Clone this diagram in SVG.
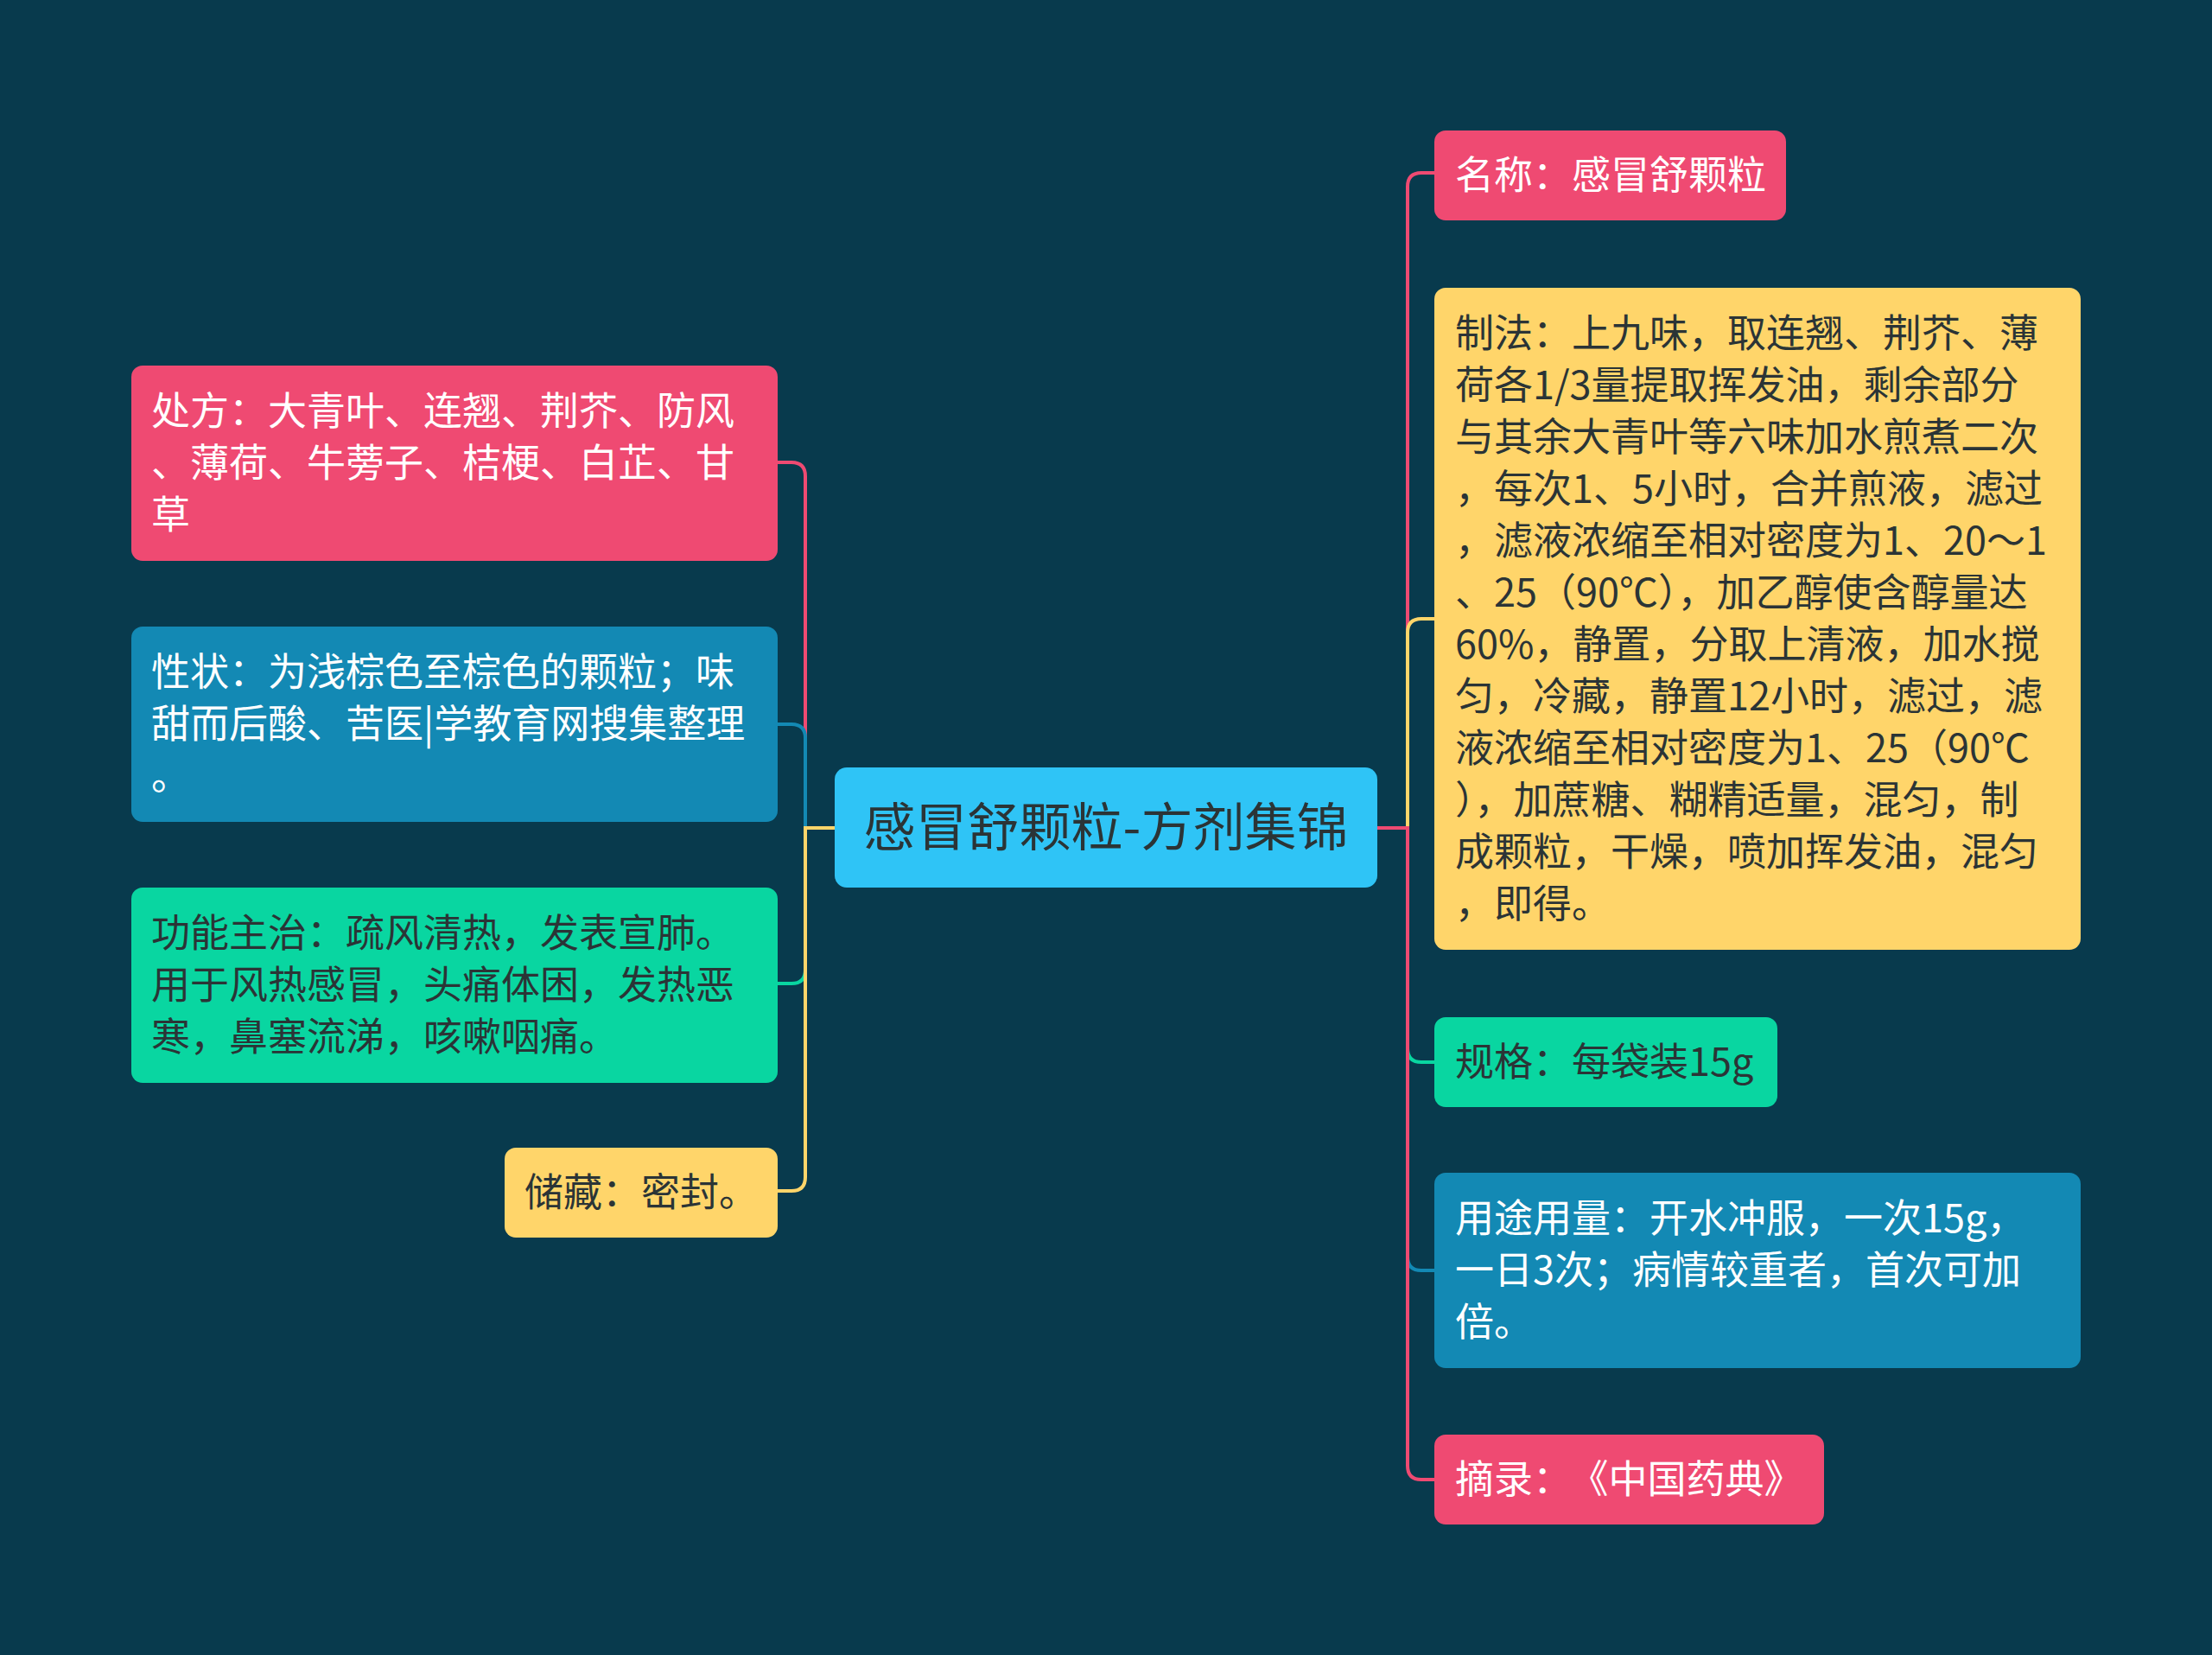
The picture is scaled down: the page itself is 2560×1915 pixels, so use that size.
<svg xmlns="http://www.w3.org/2000/svg" width="2560" height="1915" viewBox="0 0 2560 1915">
<style>
.t{font-family:"Noto Sans CJK SC","Noto Sans",sans-serif;font-size:45px}
.w{fill:#ffffff}
.d{fill:#2b3436}
.c{fill:none;stroke-width:4;stroke-linecap:round}
</style>
<rect x="0" y="0" width="2560" height="1915" fill="#083a4d"/>
<g id="connectors">
<path class="c" stroke="#ef4a72" d="M966 958 H932 V551 Q932 535 916 535 H900"/>
<path class="c" stroke="#1389b4" d="M966 958 H932 V854 Q932 838 916 838 H900"/>
<path class="c" stroke="#09d6a1" d="M966 958 H932 V1122 Q932 1138 916 1138 H900"/>
<path class="c" stroke="#ffd56a" d="M966 958 H932 V1362 Q932 1378 916 1378 H900"/>
<path class="c" stroke="#ef4a72" d="M1594 958 H1629 V216 Q1629 200 1645 200 H1660"/>
<path class="c" stroke="#ffd56a" d="M1594 958 H1629 V732 Q1629 716 1645 716 H1660"/>
<path class="c" stroke="#09d6a1" d="M1594 958 H1629 V1213 Q1629 1229 1645 1229 H1660"/>
<path class="c" stroke="#1389b4" d="M1594 958 H1629 V1454 Q1629 1470 1645 1470 H1660"/>
<path class="c" stroke="#ef4a72" d="M1594 958 H1629 V1696 Q1629 1712 1645 1712 H1660"/>
</g>
<g id="center">
<rect x="966" y="888" width="628" height="139" rx="14" fill="#2fc4f6"/>
<text x="1280" y="979" text-anchor="middle" class="d" style="font-family:'Noto Sans CJK SC','Noto Sans',sans-serif;font-size:60px">感冒舒颗粒-方剂集锦</text>
</g>
<g id="n-chufang">
<rect x="152" y="423" width="748" height="226" rx="13" fill="#ef4a72"/>
<text class="t w" x="175"><tspan x="175" y="492">处方：大青叶、连翘、荆芥、防风</tspan><tspan x="175" y="552">、薄荷、牛蒡子、桔梗、白芷、甘</tspan><tspan x="175" y="612">草</tspan></text>
</g>
<g id="n-xingzhuang">
<rect x="152" y="725" width="748" height="226" rx="13" fill="#1389b4"/>
<text class="t w" x="175"><tspan x="175" y="794">性状：为浅棕色至棕色的颗粒；味</tspan><tspan x="175" y="854">甜而后酸、苦医|学教育网搜集整理</tspan><tspan x="175" y="914">。</tspan></text>
</g>
<g id="n-gongneng">
<rect x="152" y="1027" width="748" height="226" rx="13" fill="#09d6a1"/>
<text class="t d" x="175"><tspan x="175" y="1096">功能主治：疏风清热，发表宣肺。</tspan><tspan x="175" y="1156">用于风热感冒，头痛体困，发热恶</tspan><tspan x="175" y="1216">寒，鼻塞流涕，咳嗽咽痛。</tspan></text>
</g>
<g id="n-chucang">
<rect x="584" y="1328" width="316" height="104" rx="13" fill="#ffd56a"/>
<text class="t d" x="607" y="1396">储藏：密封。</text>
</g>
<g id="n-mingcheng">
<rect x="1660" y="151" width="407" height="104" rx="13" fill="#ef4a72"/>
<text class="t w" x="1684" y="219">名称：感冒舒颗粒</text>
</g>
<g id="n-zhifa">
<rect x="1660" y="333" width="748" height="766" rx="13" fill="#ffd56a"/>
<text class="t d"><tspan x="1684" y="402">制法：上九味，取连翘、荆芥、薄</tspan><tspan x="1684" y="462">荷各1/3量提取挥发油，剩余部分</tspan><tspan x="1684" y="522">与其余大青叶等六味加水煎煮二次</tspan><tspan x="1684" y="582">，每次1、5小时，合并煎液，滤过</tspan><tspan x="1684" y="642">，滤液浓缩至相对密度为1、20～1</tspan><tspan x="1684" y="702">、25（90℃），加乙醇使含醇量达</tspan><tspan x="1684" y="762">60%，静置，分取上清液，加水搅</tspan><tspan x="1684" y="822">匀，冷藏，静置12小时，滤过，滤</tspan><tspan x="1684" y="882">液浓缩至相对密度为1、25（90℃</tspan><tspan x="1684" y="942">），加蔗糖、糊精适量，混匀，制</tspan><tspan x="1684" y="1002">成颗粒，干燥，喷加挥发油，混匀</tspan><tspan x="1684" y="1062">，即得。</tspan></text>
</g>
<g id="n-guige">
<rect x="1660" y="1177" width="397" height="104" rx="13" fill="#09d6a1"/>
<text class="t d" x="1684" y="1245">规格：每袋装15g</text>
</g>
<g id="n-yongtu">
<rect x="1660" y="1357" width="748" height="226" rx="13" fill="#1389b4"/>
<text class="t w"><tspan x="1684" y="1426">用途用量：开水冲服，一次15g，</tspan><tspan x="1684" y="1486">一日3次；病情较重者，首次可加</tspan><tspan x="1684" y="1546">倍。</tspan></text>
</g>
<g id="n-zhailu">
<rect x="1660" y="1660" width="451" height="104" rx="13" fill="#ef4a72"/>
<text class="t w" x="1684" y="1728">摘录：<tspan dx="20">《中国药典》</tspan></text>
</g>
</svg>
